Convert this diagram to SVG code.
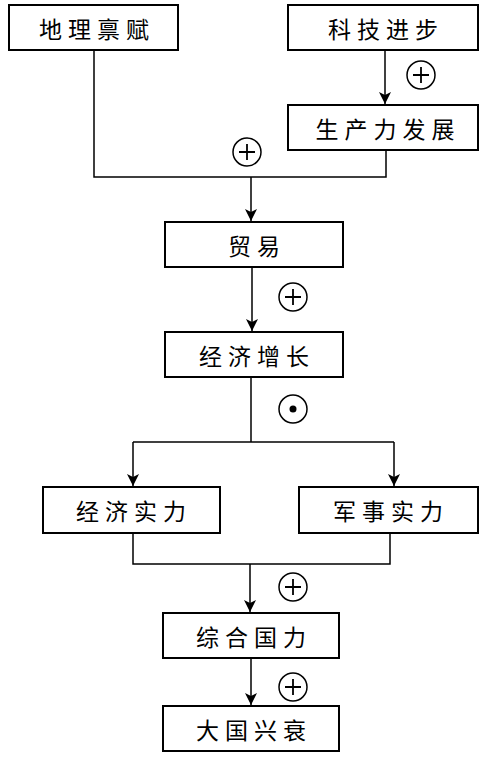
<svg xmlns="http://www.w3.org/2000/svg" width="491" height="759" viewBox="0 0 491 759">
<style>
.box{fill:#fff;stroke:#000;stroke-width:2}
.lbl{font-family:"Noto Sans CJK SC","Noto Sans CJK TC",sans-serif;font-size:23px;fill:#000;text-anchor:middle;dominant-baseline:central;letter-spacing:6px}
.ln{fill:none;stroke:#000;stroke-width:1.5}
.sym{fill:#fff;stroke:#000;stroke-width:1.5}
</style>
<defs>
<marker id="arr" viewBox="0 0 12 12" refX="12" refY="6" markerWidth="12" markerHeight="12" markerUnits="userSpaceOnUse" orient="auto">
<path d="M0,0 L12,6 L0,12 L3,6 Z" fill="#000"/>
</marker>
<g id="plus"><circle r="14" class="sym"/><path d="M-8,0 H8 M0,-8 V8" stroke="#000" stroke-width="1.8"/></g>
</defs>
<g id="connectors">
<path class="ln" d="M385,50 V104" marker-end="url(#arr)"/>
<path class="ln" d="M94,50 V177 H386 V150"/>
<path class="ln" d="M251,177 V221" marker-end="url(#arr)"/>
<path class="ln" d="M252,267 V331" marker-end="url(#arr)"/>
<path class="ln" d="M251,377 V442"/>
<path class="ln" d="M133,442 H394"/>
<path class="ln" d="M133,442 V486" marker-end="url(#arr)"/>
<path class="ln" d="M394,442 V486" marker-end="url(#arr)"/>
<path class="ln" d="M133,533 V564 H390 V533"/>
<path class="ln" d="M250,564 V612" marker-end="url(#arr)"/>
<path class="ln" d="M251,658 V705" marker-end="url(#arr)"/>
<use href="#plus" x="421" y="75"/>
<use href="#plus" x="247" y="152"/>
<use href="#plus" x="293" y="297"/>
<g><circle cx="293" cy="409" r="14" class="sym"/><circle cx="293" cy="409" r="3.5" fill="#000"/></g>
<use href="#plus" x="293" y="587"/>
<use href="#plus" x="293" y="687"/>
</g>
<g id="n1"><rect class="box" x="9" y="5" width="169" height="45"/><text class="lbl" x="97" y="28">地理禀赋</text></g>
<g id="n2"><rect class="box" x="288" y="5" width="190" height="45"/><text class="lbl" x="386" y="28">科技进步</text></g>
<g id="n3"><rect class="box" x="288" y="105" width="190" height="45"/><text class="lbl" x="388" y="128">生产力发展</text></g>
<g id="n4"><rect class="box" x="165" y="222" width="178" height="45"/><text class="lbl" x="257" y="245">贸易</text></g>
<g id="n5"><rect class="box" x="165" y="332" width="178" height="45"/><text class="lbl" x="257" y="355">经济增长</text></g>
<g id="n6"><rect class="box" x="43" y="487" width="177" height="46"/><text class="lbl" x="134" y="510">经济实力</text></g>
<g id="n7"><rect class="box" x="299" y="487" width="179" height="46"/><text class="lbl" x="391" y="510">军事实力</text></g>
<g id="n8"><rect class="box" x="163" y="613" width="176" height="45"/><text class="lbl" x="254" y="636">综合国力</text></g>
<g id="n9"><rect class="box" x="163" y="706" width="176" height="45"/><text class="lbl" x="254" y="729">大国兴衰</text></g>
</svg>
